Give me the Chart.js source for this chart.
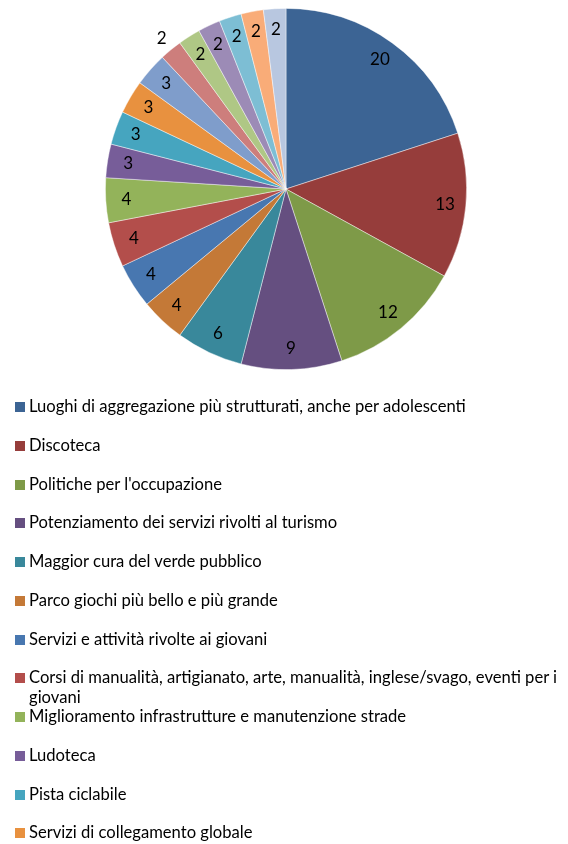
<!DOCTYPE html>
<html>
<head>
<meta charset="utf-8">
<script src="https://cdn.jsdelivr.net/npm/chart.js@4.4.1/dist/chart.umd.min.js"></script>
<style>
  html, body { margin: 0; padding: 0; background: #fff; width: 568px; height: 844px; overflow: hidden; }
  #wrap { position: relative; width: 568px; height: 844px; }
  #pie { position: absolute; left: 0; top: 0; }
  #legend { position: absolute; left: 0; top: 0; width: 568px; height: 844px; font-family: Lato, "Open Sans", sans-serif; font-size: 16.6px; color: #000; }
  .item { position: absolute; left: 15px; width: 553px; }
  .sw { position: absolute; left: 0; top: 0; width: 10px; height: 10px; }
  .tx { position: absolute; left: 14px; top: -6px; width: 539px; line-height: 20px; }
</style>
</head>
<body>
<div id="wrap">
  <canvas id="pie" width="568" height="380"></canvas>
  <div id="legend"></div>
</div>
<script>
const categories = [
  "Luoghi di aggregazione più strutturati, anche per adolescenti",
  "Discoteca",
  "Politiche per l'occupazione",
  "Potenziamento dei servizi rivolti al turismo",
  "Maggior cura del verde pubblico",
  "Parco giochi più bello e più grande",
  "Servizi e attività rivolte ai giovani",
  "Corsi di manualità, artigianato, arte, manualità, inglese/svago, eventi per i giovani",
  "Miglioramento infrastrutture e manutenzione strade",
  "Ludoteca",
  "Pista ciclabile",
  "Servizi di collegamento globale",
  "Altro (13)",
  "Altro (14)",
  "Altro (15)",
  "Altro (16)",
  "Altro (17)",
  "Altro (18)",
  "Altro (19)"
];
const values = [20, 13, 12, 9, 6, 4, 4, 4, 4, 3, 3, 3, 3, 2, 2, 2, 2, 2, 2];
const colors = [
  "#3C6494", "#963D3B", "#7E9A48", "#654F80", "#39889B", "#C47937",
  "#4877B0", "#B34E4B", "#93B35A", "#775D99", "#46A5BF", "#E8913F",
  "#7F9DCB", "#CD7E7C", "#AFC785", "#9C8BB6", "#7DBED4", "#F9AC78", "#B8C7E0"
];
const outsideLabelIndex = 13;

const labelPlugin = {
  id: 'sliceLabels',
  afterDatasetsDraw(chart) {
    const ctx = chart.ctx;
    const meta = chart.getDatasetMeta(0);
    ctx.save();
    ctx.font = '17px Lato, "Open Sans", sans-serif';
    ctx.fillStyle = '#000';
    ctx.textAlign = 'center';
    ctx.textBaseline = 'middle';
    meta.data.forEach((arc, i) => {
      const p = arc.getProps(['x','y','startAngle','endAngle','outerRadius'], true);
      const mid = (p.startAngle + p.endAngle) / 2;
      const r = p.outerRadius * (i === outsideLabelIndex ? 1.08 : 0.885);
      ctx.fillText(String(values[i]), p.x + Math.cos(mid) * r, p.y + Math.sin(mid) * r);
    });
    ctx.restore();
  }
};

new Chart(document.getElementById('pie'), {
  type: 'pie',
  data: {
    labels: categories,
    datasets: [{
      data: values,
      backgroundColor: colors,
      borderColor: 'rgba(255,255,255,0.55)',
      borderWidth: 0.8
    }]
  },
  options: {
    responsive: false,
    animation: false,
    layout: { padding: { left: 105, right: 101, top: 8, bottom: 10 } },
    plugins: { legend: { display: false }, tooltip: { enabled: false } }
  },
  plugins: [labelPlugin]
});

const legend = document.getElementById('legend');
categories.forEach((c, i) => {
  const it = document.createElement('div');
  it.className = 'item';
  it.style.top = (402 + i * 38.75) + 'px';
  const sw = document.createElement('div');
  sw.className = 'sw';
  sw.style.background = colors[i];
  const tx = document.createElement('div');
  tx.className = 'tx';
  tx.textContent = c;
  it.appendChild(sw);
  it.appendChild(tx);
  legend.appendChild(it);
});
</script>
</body>
</html>
